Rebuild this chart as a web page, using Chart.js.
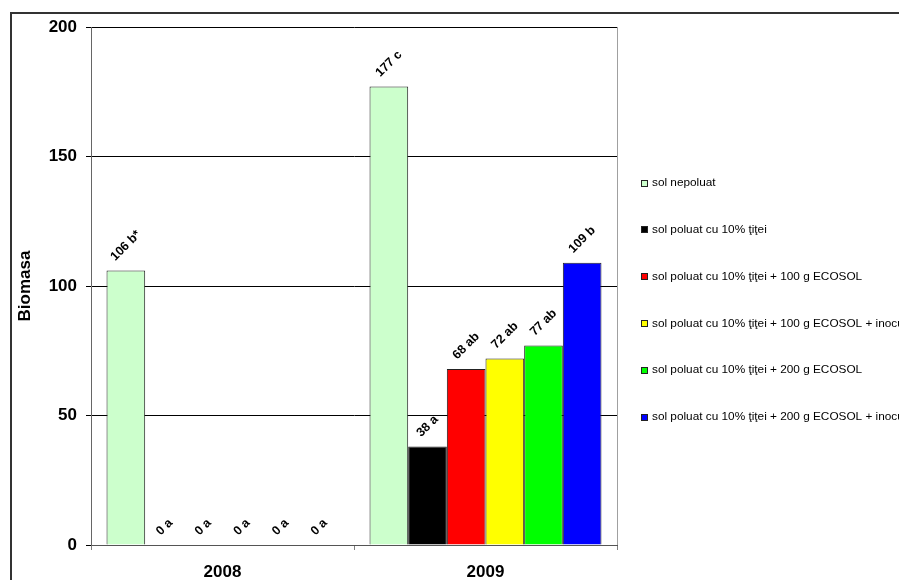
<!DOCTYPE html>
<html>
<head>
<meta charset="utf-8">
<script src="https://cdn.jsdelivr.net/npm/chart.js@4.4.1/dist/chart.umd.min.js"></script>
<style>
html,body{margin:0;padding:0;background:#fff;}
canvas{display:block;}
</style>
</head>
<body>
<canvas id="c" width="899" height="580"></canvas>
<script>
const years = ["2008", "2009"];
const seriesNames = [
  "sol nepoluat",
  "sol poluat cu 10% ţiţei",
  "sol poluat cu 10% ţiţei + 100 g ECOSOL",
  "sol poluat cu 10% ţiţei + 100 g ECOSOL + inoculare",
  "sol poluat cu 10% ţiţei + 200 g ECOSOL",
  "sol poluat cu 10% ţiţei + 200 g ECOSOL + inoculare"
];
const values2008 = [106, 0, 0, 0, 0, 0];
const values2009 = [177, 38, 68, 72, 77, 109];
const labels2008 = ["106 b*", "0 a", "0 a", "0 a", "0 a", "0 a"];
const labels2009 = ["177 c", "38 a", "68 ab", "72 ab", "77 ab", "109 b"];
const seriesColors = ["#CCFFCC", "#000000", "#FF0000", "#FFFF00", "#00FF00", "#0000FF"];
const yTicks = [0, 50, 100, 150, 200];

Chart.defaults.font.family = "'Liberation Sans', Arial, sans-serif";
Chart.defaults.color = "#000";

const datasets = seriesNames.map((name, i) => ({
  label: name,
  data: [values2008[i], values2009[i]],
  valueLabels: [labels2008[i], labels2009[i]],
  backgroundColor: seriesColors[i],
  borderColor: "#222",
  borderWidth: 1,
  categoryPercentage: 0.882,
  barPercentage: 1.0
}));

const framePlugin = {
  id: "frame",
  beforeDraw(chart) {
    const ctx = chart.ctx;
    ctx.save();
    ctx.fillStyle = "#fff";
    ctx.fillRect(0, 0, chart.width, chart.height);
    ctx.strokeStyle = "#333";
    ctx.lineWidth = 2;
    ctx.strokeRect(11, 13, 1200, 1200);
    ctx.restore();
  },
  afterDatasetsDraw(chart) {
    const ctx = chart.ctx;
    const a = chart.chartArea;
    ctx.save();
    ctx.strokeStyle = "#A0A0A0";
    ctx.lineWidth = 1;
    ctx.beginPath();
    ctx.moveTo(Math.round(a.right) + 0.5, a.top);
    ctx.lineTo(Math.round(a.right) + 0.5, a.bottom);
    ctx.stroke();
    ctx.font = "bold 12.5px 'Liberation Sans', Arial, sans-serif";
    ctx.fillStyle = "#000";
    ctx.textAlign = "center";
    ctx.textBaseline = "middle";
    chart.data.datasets.forEach((ds, di) => {
      const meta = chart.getDatasetMeta(di);
      meta.data.forEach((el, j) => {
        const txt = ds.valueLabels[j];
        const w = ctx.measureText(txt).width;
        const off = (w + 9) / (2 * Math.SQRT2) + 8.5;
        ctx.save();
        ctx.translate(el.x, el.y - off);
        ctx.rotate(-Math.PI / 4);
        ctx.fillText(txt, 0, 0);
        ctx.restore();
      });
    });
    const lx = 641, ly0 = 182.5, step = 46.8;
    ctx.font = "11.8px 'Liberation Sans', Arial, sans-serif";
    ctx.textAlign = "left";
    ctx.textBaseline = "middle";
    chart.data.datasets.forEach((ds, i) => {
      const y = ly0 + i * step;
      ctx.fillStyle = ds.backgroundColor;
      ctx.fillRect(lx, Math.round(y - 3), 6, 6);
      ctx.strokeStyle = "#222";
      ctx.lineWidth = 1;
      ctx.strokeRect(lx + 0.5, Math.round(y - 3) + 0.5, 6, 6);
      ctx.fillStyle = "#000";
      ctx.fillText(ds.label, 652, y + 0.5);
    });
    ctx.restore();
  }
};

new Chart(document.getElementById("c"), {
  type: "bar",
  data: { labels: years, datasets: datasets },
  options: {
    responsive: false,
    animation: false,
    devicePixelRatio: 1,
    layout: { padding: { top: 27, right: 282, left: 0, bottom: 0 } },
    plugins: { legend: { display: false }, tooltip: { enabled: false } },
    scales: {
      x: {
        offset: true,
        grid: { offset: true, drawOnChartArea: false, color: "#808080", tickLength: 5 },
        border: { color: "#555", width: 1 },
        ticks: { font: { size: 17, weight: "bold" }, color: "#000", padding: 12 },
        afterFit(s) { s.height = 35; }
      },
      y: {
        min: 0, max: 200,
        afterBuildTicks(s) { s.ticks = yTicks.map(v => ({ value: v })); },
        grid: { color: "#000", tickLength: 5 },
        border: { color: "#666", width: 1 },
        ticks: { font: { size: 17, weight: "bold" }, color: "#000", padding: 9 },
        title: { display: true, text: "Biomasa", font: { size: 17, weight: "bold" }, color: "#000", padding: { top: 15, bottom: 0 } },
        afterFit(s) { s.width = 91; }
      }
    }
  },
  plugins: [framePlugin]
});
</script>
</body>
</html>
